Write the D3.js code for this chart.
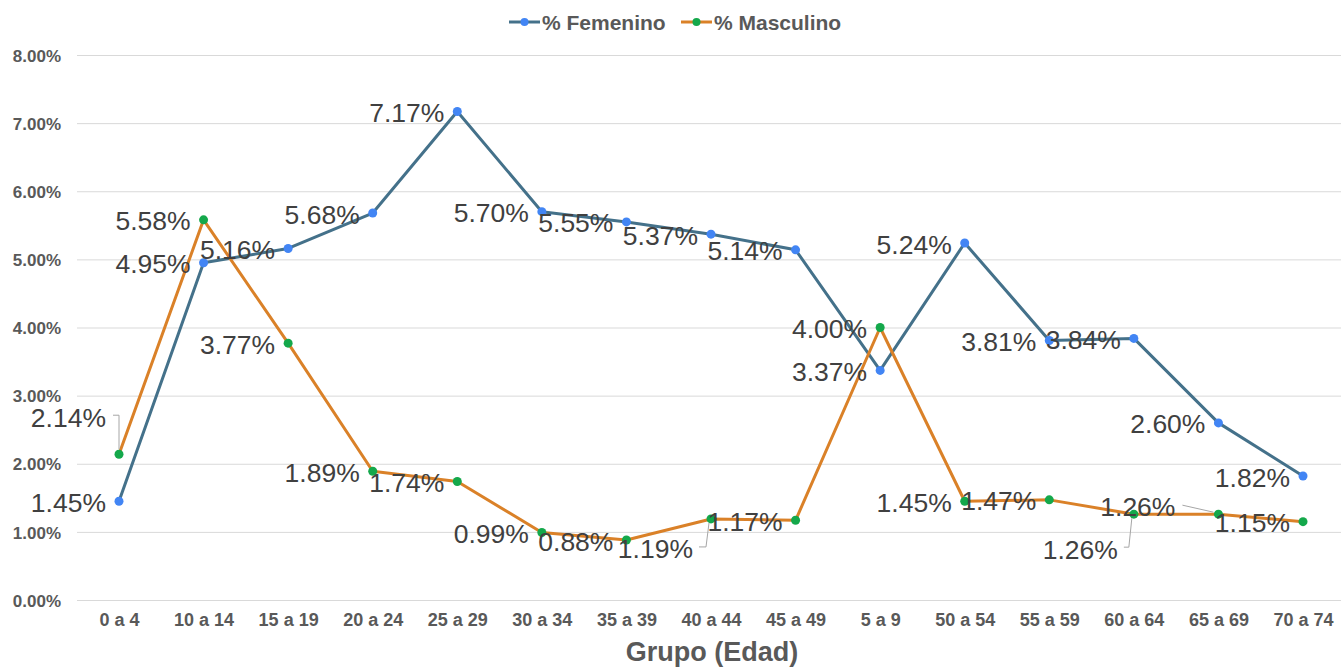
<!DOCTYPE html>
<meta charset="utf-8">
<style>
body { margin: 0; background: #fff; }
text { font-family: "Liberation Sans", Arial, sans-serif; }
.grid line { stroke: #d9d9d9; stroke-width: 1px; }
.grid path { display: none; }
.tick text { fill: #595959; font-weight: bold; }
.lbl { fill: #404040; font-size: 26.5px; }
.leader { fill: none; stroke: #a6a6a6; stroke-width: 1px; }
</style>
<script src="https://cdn.jsdelivr.net/npm/d3@7"></script>
<body>
<script>

var grupos = ["0 a 4", "10 a 14", "15 a 19", "20 a 24", "25 a 29", "30 a 34", "35 a 39",
              "40 a 44", "45 a 49", "5 a 9", "50 a 54", "55 a 59", "60 a 64", "65 a 69", "70 a 74"];
var femenino = [1.45, 4.95, 5.16, 5.68, 7.17, 5.70, 5.55, 5.37, 5.14, 3.37, 5.24, 3.81, 3.84, 2.60, 1.82];
var masculino = [2.14, 5.58, 3.77, 1.89, 1.74, 0.99, 0.88, 1.19, 1.17, 4.00, 1.45, 1.47, 1.26, 1.26, 1.15];
var yTicks = [0, 1, 2, 3, 4, 5, 6, 7, 8];

// labels that Excel moved away from their point (index -> [dx, dy, leader type])
var mascMoved = { 0: [-13, -37, "up"], 7: [-18, 30, "down"], 12: [-16, 35, "down"], 13: [-43, -8, "diag"] };

var width = 1341,
    height = 667;

var svg = d3.select("body")
  .append("svg")
    .attr("width", width)
    .attr("height", height);

var x = d3.scalePoint()
  .domain(grupos)
  .range([119, 1303]);

var y = d3.scaleLinear()
  .domain([0, 8])
  .range([600, 55]);

// grid + y labels
var yAxis = svg.append("g")
    .attr("class", "grid")
    .attr("transform", "translate(77,0)")
    .call(d3.axisLeft(y)
      .tickValues(yTicks)
      .tickSize(-(width - 77))
      .tickFormat(function (d) { return d.toFixed(2) + "%"; }));

yAxis.selectAll(".tick text")
  .attr("x", -16)
  .attr("dy", "0.36em")
  .style("font-size", "17px");

// x labels
var xAxis = svg.append("g")
    .attr("transform", "translate(0,600)")
    .call(d3.axisBottom(x).tickSize(0));

xAxis.select(".domain").remove();
xAxis.selectAll(".tick text")
  .attr("y", 26)
  .attr("dy", 0)
  .style("font-size", "18px");

svg.append("text")
  .attr("x", 712)
  .attr("y", 661)
  .attr("text-anchor", "middle")
  .style("font-size", "27px")
  .style("font-weight", "bold")
  .style("fill", "#595959")
  .text("Grupo (Edad)");

var line = d3.line()
  .x(function (d, i) { return x(grupos[i]); })
  .y(function (d) { return y(d); });

var series = [
  { name: "% Femenino", values: femenino, stroke: "#44718a", dot: "#4285f4" },
  { name: "% Masculino", values: masculino, stroke: "#da8128", dot: "#14a84b" }
];

series.forEach(function (s) {
  svg.append("path")
    .datum(s.values)
    .attr("d", line)
    .attr("fill", "none")
    .attr("stroke", s.stroke)
    .attr("stroke-width", 3)
    .attr("stroke-linejoin", "round");

  svg.selectAll(null)
    .data(s.values)
    .enter()
    .append("circle")
      .attr("cx", function (d, i) { return x(grupos[i]); })
      .attr("cy", function (d) { return y(d); })
      .attr("r", 4.5)
      .attr("fill", s.dot);
});

// data labels
function addLabels(values, moved) {
  values.forEach(function (v, i) {
    var px = x(grupos[i]), py = y(v);
    var m = moved[i] || [-13, 1, null];
    var tx = px + m[0], ty = py + m[1];
    svg.append("text")
      .attr("class", "lbl")
      .attr("x", tx)
      .attr("y", ty)
      .attr("dy", "0.36em")
      .attr("text-anchor", "end")
      .text(v.toFixed(2) + "%");
    if (m[2] === "up") {
      svg.append("path").attr("class", "leader")
        .attr("d", "M" + (tx + 7) + "," + (ty - 2) + "H" + px + "V" + (py - 5));
    } else if (m[2] === "down") {
      svg.append("path").attr("class", "leader")
        .attr("d", "M" + (tx + 6) + "," + (ty - 2) + "H" + (px - 5) + "L" + (px - 2) + "," + (py + 4));
    } else if (m[2] === "diag") {
      svg.append("path").attr("class", "leader")
        .attr("d", "M" + (tx + 7) + "," + (ty - 1) + "L" + (px - 5) + "," + (py - 2));
    }
  });
}

addLabels(masculino, mascMoved);
addLabels(femenino, {});

// legend
var legend = svg.append("g");
var legX = [509, 681];
series.forEach(function (s, i) {
  var g = legend.append("g").attr("transform", "translate(" + legX[i] + ",22)");
  g.append("line")
    .attr("x1", 0).attr("x2", 31)
    .attr("stroke", s.stroke)
    .attr("stroke-width", 3);
  g.append("circle")
    .attr("cx", 15.5)
    .attr("r", 4)
    .attr("fill", s.dot);
  g.append("text")
    .attr("x", 33)
    .attr("dy", "0.36em")
    .style("font-size", "21px")
    .style("font-weight", "bold")
    .style("fill", "#595959")
    .text(s.name);
});

</script>
</body>
